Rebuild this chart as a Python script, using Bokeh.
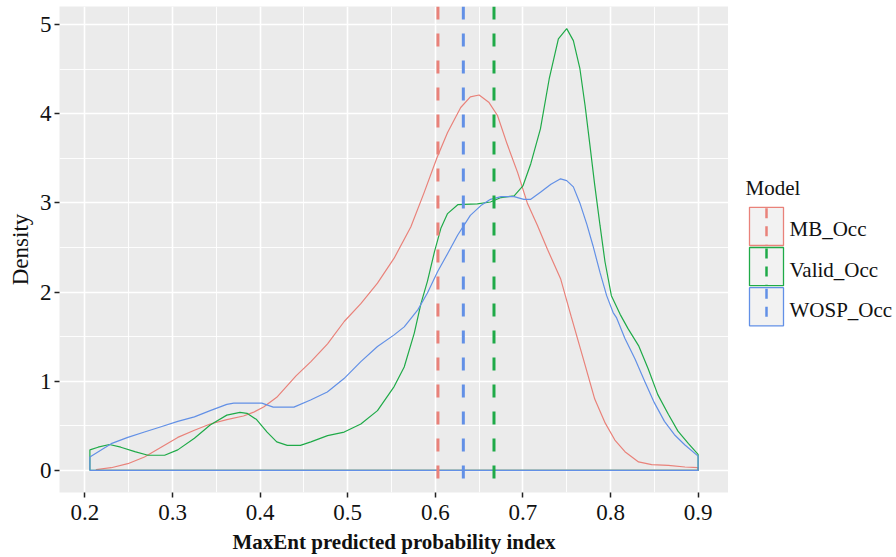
from bokeh.plotting import figure
from bokeh.models import Range1d, FixedTicker, Span, Title
from bokeh.layouts import row
from bokeh.embed import file_html
from bokeh.resources import INLINE
from bokeh.core.properties import value

# ---------------- data ----------------
models = ["MB_Occ", "Valid_Occ", "WOSP_Occ"]
colors = ["#E9827A", "#1FAA48", "#6290E6"]

mb_x = [0.213, 0.23, 0.249, 0.268, 0.287, 0.306, 0.325, 0.343, 0.362, 0.381, 0.392,
        0.404, 0.419, 0.43, 0.441, 0.458, 0.477, 0.496, 0.515, 0.534, 0.553, 0.572,
        0.587, 0.602, 0.614, 0.629, 0.640, 0.65, 0.661, 0.671, 0.682, 0.694, 0.705,
        0.7165, 0.728, 0.743, 0.755, 0.771, 0.782, 0.794, 0.805, 0.8165, 0.832,
        0.847, 0.866, 0.885, 0.9]
mb_y = [0.01, 0.03, 0.075, 0.15, 0.26, 0.37, 0.45, 0.52, 0.57, 0.61, 0.65,
        0.71, 0.82, 0.94, 1.06, 1.22, 1.42, 1.67, 1.87, 2.10, 2.38, 2.73,
        3.11, 3.51, 3.79, 4.07, 4.19, 4.21, 4.13, 3.98, 3.66, 3.34, 3.0,
        2.75, 2.48, 2.15, 1.73, 1.18, 0.80, 0.53, 0.34, 0.21, 0.095,
        0.065, 0.057, 0.038, 0.03]

valid_x = [0.2057, 0.215, 0.228, 0.241, 0.257, 0.272, 0.291, 0.306, 0.325, 0.343,
           0.362, 0.377, 0.385, 0.396, 0.408, 0.419, 0.431, 0.446, 0.458, 0.477,
           0.496, 0.515, 0.534, 0.553, 0.5645, 0.576, 0.5836, 0.591, 0.599, 0.6065,
           0.614, 0.6256, 0.648, 0.663, 0.675, 0.69, 0.7, 0.709, 0.72, 0.73,
           0.7405, 0.75, 0.7576, 0.765, 0.771, 0.7766, 0.782, 0.788, 0.7937, 0.801,
           0.811, 0.82, 0.832, 0.843, 0.854, 0.866, 0.877, 0.889, 0.9]
valid_y = [0.23, 0.26, 0.29, 0.26, 0.21, 0.17, 0.17, 0.23, 0.36, 0.51,
           0.62, 0.65, 0.64, 0.57, 0.43, 0.32, 0.28, 0.28, 0.32, 0.39,
           0.43, 0.52, 0.67, 0.94, 1.16, 1.54, 1.87, 2.12, 2.45, 2.72,
           2.88, 2.98, 2.99, 3.01, 3.06, 3.08, 3.19, 3.44, 3.83, 4.39,
           4.84, 4.955, 4.82, 4.51, 4.09, 3.64, 3.2, 2.75, 2.34, 1.96,
           1.75, 1.59, 1.40, 1.14, 0.85, 0.63, 0.44, 0.30, 0.18]

wosp_x = [0.2057, 0.23, 0.249, 0.268, 0.287, 0.306, 0.325, 0.343, 0.362, 0.37,
          0.402, 0.415, 0.4386, 0.4576, 0.4767, 0.4958, 0.515, 0.534, 0.553, 0.5645,
          0.58, 0.591, 0.6027, 0.614, 0.6256, 0.640, 0.652, 0.663, 0.675, 0.69,
          0.701, 0.709, 0.72, 0.732, 0.743, 0.75, 0.7576, 0.765, 0.773, 0.78,
          0.788, 0.7956, 0.803, 0.807, 0.8165, 0.828, 0.839, 0.85, 0.8616, 0.873,
          0.885, 0.9]
wosp_y = [0.15, 0.30, 0.37, 0.43, 0.49, 0.55, 0.60, 0.67, 0.74, 0.755,
          0.755, 0.71, 0.71, 0.79, 0.88, 1.03, 1.22, 1.39, 1.52, 1.61,
          1.80, 1.99, 2.23, 2.43, 2.64, 2.86, 2.97, 3.04, 3.07, 3.07,
          3.04, 3.04, 3.12, 3.21, 3.27, 3.25, 3.18, 3.0, 2.76, 2.52,
          2.22, 1.96, 1.77, 1.71, 1.48, 1.25, 1.0, 0.76, 0.55, 0.40,
          0.285, 0.16]

mean_values = [0.603, 0.667, 0.632]   # MB_Occ, Valid_Occ, WOSP_Occ

x_ticks = [0.2, 0.3, 0.4, 0.5, 0.6, 0.7, 0.8, 0.9]
x_minor = [0.25, 0.35, 0.45, 0.55, 0.65, 0.75, 0.85]
y_ticks = [0, 1, 2, 3, 4, 5]
y_minor = [0.5, 1.5, 2.5, 3.5, 4.5]

series_x = [mb_x, valid_x, wosp_x]
series_y = [mb_y, valid_y, wosp_y]

SERIF = "Liberation Serif"

# ---------------- main plot ----------------
p = figure(width=728, height=557,
           x_range=Range1d(0.171, 0.9347), y_range=Range1d(-0.248, 5.203),
           output_backend="svg", toolbar_location=None,
           min_border_left=59, min_border_right=0, min_border_top=6, min_border_bottom=65)
p.background_fill_color = "#EBEBEB"
p.border_fill_color = "white"
p.outline_line_color = None

for xs, ys, c in zip(series_x, series_y, colors):
    px = [xs[0]] + list(xs) + [xs[-1], xs[0]]
    py = [0] + list(ys) + [0, 0]
    p.line(px, py, line_color=c, line_width=1.2)

for m, c in zip(mean_values, colors):
    p.add_layout(Span(location=m, dimension="height", line_color=c,
                      line_width=3, line_dash="13 14"))

p.xaxis.ticker = FixedTicker(ticks=x_ticks, minor_ticks=x_minor)
p.yaxis.ticker = FixedTicker(ticks=y_ticks, minor_ticks=y_minor)

for ax in (p.xaxis[0], p.yaxis[0]):
    ax.axis_line_color = None
    ax.major_tick_in = 0
    ax.major_tick_out = 5
    ax.major_tick_line_color = "#222222"
    ax.major_tick_line_width = 1.5
    ax.minor_tick_line_color = None
    ax.major_label_text_font = SERIF
    ax.major_label_text_font_size = "23px"
    ax.major_label_text_color = "#111111"
    ax.axis_label_text_font = SERIF
    ax.axis_label_text_color = "#111111"

p.xaxis.axis_label = "MaxEnt predicted probability index"
p.xaxis.axis_label_text_font_style = "bold"
p.xaxis.axis_label_text_font_size = "21px"
p.xaxis.major_label_standoff = 7
p.xaxis.axis_label_standoff = 7
p.yaxis.major_label_standoff = 3

# y-axis title as a side title on the left
p.add_layout(Title(text="Density", align="center", standoff=8,
                   text_font=SERIF, text_font_size="23px", text_font_style="normal",
                   text_color="#111111"), "left")

for g in (p.xgrid[0], p.ygrid[0]):
    g.grid_line_color = "white"
    g.grid_line_width = 1.6
    g.minor_grid_line_color = "white"
    g.minor_grid_line_width = 0.9

# ---------------- legend panel (frame aligned with main frame: page px) ----------------
leg = figure(width=166, height=557, x_range=Range1d(728, 894), y_range=Range1d(492, 8),
             output_backend="svg", toolbar_location=None,
             x_axis_type=None, y_axis_type=None,
             min_border_left=0, min_border_right=0, min_border_top=6, min_border_bottom=65)
leg.background_fill_color = "white"
leg.border_fill_color = "white"
leg.outline_line_color = None
leg.grid.visible = False

key_left, key_right, key_top, key_h = 749, 783, 208, 40
leg.text(x=[745], y=[189], text=["Model"], text_font=value(SERIF), text_font_size="21px",
         text_baseline="middle", text_align="left", text_color="#111111")
for i, (m, c) in enumerate(zip(models, colors)):
    t = key_top + i * key_h
    b = t + key_h - 2
    cx = (key_left + key_right) / 2
    leg.quad(left=[key_left], right=[key_right], top=[t], bottom=[b],
             fill_color="#F2F2F2", line_color=c, line_width=1.3)
    leg.segment(x0=[cx], y0=[t + 1], x1=[cx], y1=[b - 1],
                line_color=c, line_width=2.5, line_dash="10 8")
    leg.text(x=[789], y=[(t + b) / 2 + 3], text=[m], text_font=value(SERIF), text_font_size="21px",
             text_baseline="middle", text_align="left", text_color="#111111")

layout = row(p, leg)
open("out.html", "w").write(file_html(layout, INLINE))
